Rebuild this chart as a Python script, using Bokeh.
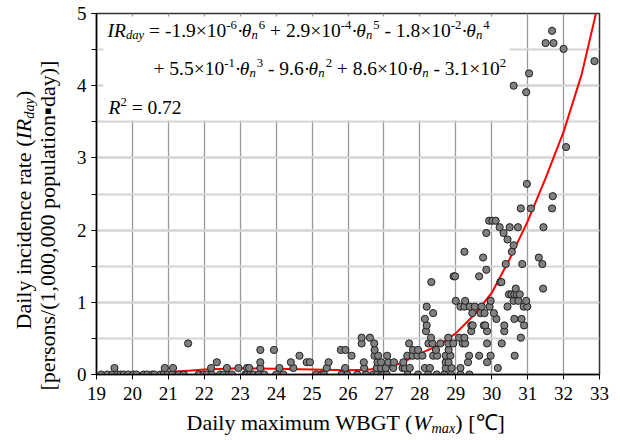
import math
from bokeh.plotting import figure
from bokeh.layouts import row, column
from bokeh.models import Label, BoxAnnotation, SingleIntervalTicker, ColumnDataSource, Range1d
from bokeh.embed import file_html
from bokeh.resources import INLINE

# ---------------- data ----------------
wbgt_0 = [19.13, 19.30, 19.44, 19.58, 19.67, 19.76, 19.88, 20.02, 20.11, 20.31, 20.41, 20.55, 20.61,
          20.78, 20.87, 20.98, 21.10, 21.29, 21.43, 21.84, 21.98, 22.07, 22.21, 22.44, 22.54, 22.68,
          22.77, 23.14, 23.19, 23.28, 23.37, 23.51, 23.67, 24.0, 24.2, 25.11, 25.27, 25.33, 25.82,
          25.98, 26.26, 26.5, 26.7, 26.81, 26.94, 27.0, 27.08, 27.66, 27.95, 28.23, 28.47, 28.68,
          28.87, 29.13, 29.38]
rate_0 = [0.0] * len(wbgt_0)

wbgt_low = [19.5, 20.9, 21.13, 22.19, 22.63, 22.95, 23.19, 23.25, 23.56, 24.09, 24.48, 25.41, 25.92,
            26.45, 26.8, 26.92, 27.05, 27.26, 27.52, 27.58, 27.72, 28.14, 28.28, 28.72, 28.88, 29.13, 30.17,
            22.35, 23.56, 24.41, 24.85, 24.94, 25.46, 26.44, 26.82, 26.92, 27.12, 27.28, 27.54, 28.72,
            28.8, 29.34, 29.87,
            24.65, 26.1, 26.74, 26.84, 27.09, 27.65, 27.8, 27.93, 28.07, 28.37, 28.48, 28.72, 28.85,
            29.37, 29.65, 29.97, 30.64,
            23.56, 23.94, 25.8, 25.93, 26.74, 27.81, 27.95, 28.45, 28.8,
            21.55, 26.38, 26.73, 27.7, 28.24, 28.35, 28.57, 28.79, 28.93, 29.19, 29.26, 29.87, 30.28,
            26.38, 26.61, 28.31, 28.79, 29.09, 29.24, 30.81]
rate_low = ([0.09] * 27 + [0.17] * 16 + [0.26] * 17 + [0.34] * 9 + [0.43] * 13 + [0.51] * 7)

wbgt_mid = [28.17, 29.43, 29.87, 30.35,
            28.19, 29.43, 29.47, 29.78, 29.82, 30.35, 30.9,
            28.14, 30.13, 30.63, 30.83,
            28.37, 29.46, 29.69, 29.8, 30.06,
            28.19, 29.13, 29.24, 29.39, 29.53, 29.72, 29.94, 30.44, 30.89, 30.99,
            29.0, 29.26, 29.97, 30.61, 30.74, 30.96,
            30.48, 30.55, 30.63, 30.7, 30.78,
            30.67, 31.43,
            28.32, 30.24, 30.27,
            28.94, 28.98, 29.65]
rate_mid = ([0.6] * 4 + [0.68] * 7 + [0.77] * 4 + [0.85] * 5 + [0.94] * 10 + [1.02] * 6 +
            [1.11] * 5 + [1.19] * 2 + [1.28] * 3 + [1.36] * 3)

wbgt_high = [29.85, 30.39, 30.85, 31.41, 29.76, 31.31, 29.24, 30.56, 30.61, 30.44, 29.85, 30.33,
             30.22, 30.5, 30.73, 31.44, 29.93, 30.02, 30.11, 30.81, 31.09, 31.68, 31.7, 30.98,
             32.07, 30.96, 30.61, 31.04, 32.86, 32.0, 31.5, 31.72, 31.68]
rate_high = [1.45, 1.53, 1.53, 1.53, 1.62, 1.62, 1.7, 1.7, 1.79, 1.87, 1.96, 1.96,
             2.04, 2.04, 2.04, 2.04, 2.13, 2.13, 2.13, 2.3, 2.3, 2.3, 2.47, 2.64,
             3.15, 3.91, 4.0, 4.17, 4.34, 4.51, 4.59, 4.59, 4.76]

fit_x = [19.75, 20.5, 21.0, 22.0, 23.0, 24.0, 25.0, 26.0, 26.5, 27.0, 27.5, 28.0, 28.5, 29.0,
         29.5, 30.0, 30.5, 31.0, 31.5, 32.0, 32.5, 32.9]
fit_y = [0.0, 0.015, 0.03, 0.07, 0.085, 0.08, 0.07, 0.06, 0.065, 0.085, 0.16, 0.29, 0.40, 0.57,
         0.82, 1.13, 1.6, 2.12, 2.72, 3.36, 4.15, 5.0]

# ---------------- layout geometry (page pixels) ----------------
FONT = "Liberation Serif"
TOTAL_W, TOTAL_H = 616, 438
LEFT_W = 70           # strip holding the y-axis title
MAIN_H = 410          # main figure height; x-axis title strip below it
BL, BR, BT, BB = 26, 17, 13, 36   # main figure borders -> frame at page x 96..599, y 13..374

# ---------------- main figure ----------------
p = figure(width=TOTAL_W - LEFT_W, height=MAIN_H, x_range=Range1d(19, 33), y_range=Range1d(0, 5),
           output_backend="svg", toolbar_location=None,
           min_border_left=BL, min_border_right=BR, min_border_top=BT, min_border_bottom=BB)
p.background_fill_color = "white"
p.border_fill_color = "white"
p.outline_line_color = "#333333"
p.outline_line_width = 1.5

p.xaxis.ticker = SingleIntervalTicker(interval=1, num_minor_ticks=0)
p.yaxis.ticker = SingleIntervalTicker(interval=1, num_minor_ticks=2)
for ax in (p.xaxis, p.yaxis):
    ax.axis_line_color = "black"
    ax.axis_line_width = 1.5
    ax.major_tick_line_color = "black"
    ax.minor_tick_line_color = "black"
    ax.major_tick_out = 5
    ax.major_tick_in = 0
    ax.minor_tick_in = 0
    ax.major_label_text_font = FONT
    ax.major_label_text_font_size = "19px"
    ax.major_label_text_color = "black"
p.xaxis.minor_tick_out = 0
p.yaxis.minor_tick_out = 5
p.xaxis.major_label_standoff = 7
p.yaxis.major_label_standoff = 5

p.xgrid.grid_line_color = "#9a9a9a"
p.xgrid.grid_line_width = 1.3
p.ygrid.grid_line_color = "#d4d4d4"
p.ygrid.grid_line_width = 2
p.ygrid.minor_grid_line_color = "#d4d4d4"
p.ygrid.minor_grid_line_width = 2

# white box behind the equation
p.add_layout(BoxAnnotation(left=19.19, right=30.5, top=4.96, bottom=3.52,
                           fill_color="white", fill_alpha=1.0, line_alpha=0.0))

wbgt = wbgt_0 + wbgt_low + wbgt_mid + wbgt_high
rate = rate_0 + rate_low + rate_mid + rate_high
src = ColumnDataSource(dict(x=wbgt, y=rate))
p.line(fit_x, fit_y, line_color="#ff0000", line_width=2)
p.scatter("x", "y", source=src, size=7.2, fill_color="#808080", line_color="#202020", line_width=1)


def strip(w, h, xr, yr, bl=0, br=0, bt=0, bb=0):
    f = figure(width=w, height=h, x_range=Range1d(*xr), y_range=Range1d(*yr),
               output_backend="svg", toolbar_location=None, x_axis_location=None,
               y_axis_location=None, min_border=0, min_border_left=bl, min_border_right=br,
               min_border_top=bt, min_border_bottom=bb)
    f.grid.visible = False
    f.outline_line_color = None
    f.background_fill_color = "white"
    f.border_fill_color = "white"
    return f


# y-title strip: data coordinates == page pixels (y downwards)
yfig = strip(LEFT_W, TOTAL_H, (0, LEFT_W), (TOTAL_H, 0))
# x-title strip: frame aligned with the main frame horizontally
xfig = strip(TOTAL_W - LEFT_W, TOTAL_H - MAIN_H, (96, 599), (TOTAL_H, MAIN_H), bl=BL, br=BR)

# ---------------- rich text helper ----------------
REG = {' ': 250, '(': 333, ')': 333, '+': 564, ',': 250, '-': 333, '.': 250, '/': 278, '=': 564,
       '[': 333, ']': 333, '×': 564, '·': 250, '▪': 600, '℃': 1000,
       'B': 667, 'D': 722, 'G': 722, 'T': 611, 'W': 944,
       'a': 444, 'b': 500, 'c': 444, 'd': 500, 'e': 444, 'f': 333, 'g': 500, 'h': 500, 'i': 278,
       'l': 278, 'm': 778, 'n': 500, 'o': 500, 'p': 500, 'r': 333, 's': 389, 't': 278, 'u': 500,
       'x': 500, 'y': 500}
ITA = {'I': 333, 'R': 611, 'W': 833, 'a': 500, 'd': 500, 'y': 444, 'm': 722, 'x': 444, 'n': 500,
       'θ': 500}


def tw(s, italic, size):
    t = ITA if italic else REG
    return sum(t.get(c, 500) for c in s) * size / 1000.0


AX, AY = 96, 374  # page pixel of data point (19, 0) in the main figure
BASE_FIX = 0.28   # labels render about this many em below the requested baseline


def rich(fig, segments, X0, Y0, size, vertical=False, anchored=False):
    pos = 0.0
    for text, italic, level in segments:
        if text == "":
            pos += italic * size  # gap
            continue
        s = size * 0.65 if level else size
        lead = len(text) - len(text.lstrip(" "))
        trail = len(text) - len(text.rstrip(" "))
        pos += tw(" " * lead, False, s)
        core = text.strip(" ")
        shift = 0.36 * size if level == 1 else (-0.17 * size if level == -1 else 0.0)
        shift += BASE_FIX * s
        if vertical:
            X, Y, ang = X0 - shift, Y0 - pos, math.pi / 2
        else:
            X, Y, ang = X0 + pos, Y0 - shift, 0.0
        style = dict(text=core, angle=ang, text_font=FONT,
                     text_font_style="italic" if italic else "normal",
                     text_font_size=f"{s:.1f}px", text_baseline="alphabetic",
                     text_align="left", text_color="black")
        if anchored:
            lab = Label(x=19, y=0, x_offset=X - AX, y_offset=AY - Y, **style)
        else:
            lab = Label(x=X, y=Y, **style)
        fig.add_layout(lab)
        pos += tw(core, italic, s) + tw(" " * trail, False, s)
    return pos


IT, RG, SUB, SUP, B = True, False, -1, 1, 0
EQ = 19.5
line1 = [("IR", IT, B), ("day", IT, SUB), (" = -1.9×10", RG, B), ("-6", RG, SUP), ("·", RG, B),
         ("θ", IT, B), ("n", IT, SUB), ("", 0.05, B), ("6", RG, SUP),
         (" + 2.9×10", RG, B), ("-4", RG, SUP), ("·", RG, B), ("θ", IT, B), ("n", IT, SUB),
         ("", 0.05, B), ("5", RG, SUP),
         (" - 1.8×10", RG, B), ("-2", RG, SUP), ("·", RG, B), ("θ", IT, B), ("n", IT, SUB),
         ("", 0.05, B), ("4", RG, SUP)]
line2 = [("+ 5.5×10", RG, B), ("-1", RG, SUP), ("·", RG, B), ("θ", IT, B), ("n", IT, SUB),
         ("", 0.05, B), ("3", RG, SUP),
         (" - 9.6·", RG, B), ("θ", IT, B), ("n", IT, SUB), ("", 0.05, B), ("2", RG, SUP),
         (" + 8.6×10·", RG, B), ("θ", IT, B), ("n", IT, SUB),
         (" - 3.1×10", RG, B), ("2", RG, SUP)]
line3 = [("R", IT, B), ("2", RG, SUP), (" = 0.72", RG, B)]
rich(p, line1, 107, 35, EQ, anchored=True)
rich(p, line2, 153, 73, EQ, anchored=True)
rich(p, line3, 108, 112, EQ, anchored=True)

TS = 22
xlab = [("Daily maximum WBGT (", RG, B), ("W", IT, B), ("max", IT, SUB), (") [℃]", RG, B)]
rich(xfig, xlab, 186, 428, TS)

ylab1 = [("Daily incidence rate (", RG, B), ("IR", IT, B), ("day", IT, SUB), (")", RG, B)]
ylab2 = [("[persons/(1,000,000 population▪day)]", RG, B)]
rich(yfig, ylab1, 29, 329, TS, vertical=True)
rich(yfig, ylab2, 53, 390, TS, vertical=True)

layout = row(yfig, column(p, xfig))
open("out.html", "w").write(file_html(layout, INLINE))
